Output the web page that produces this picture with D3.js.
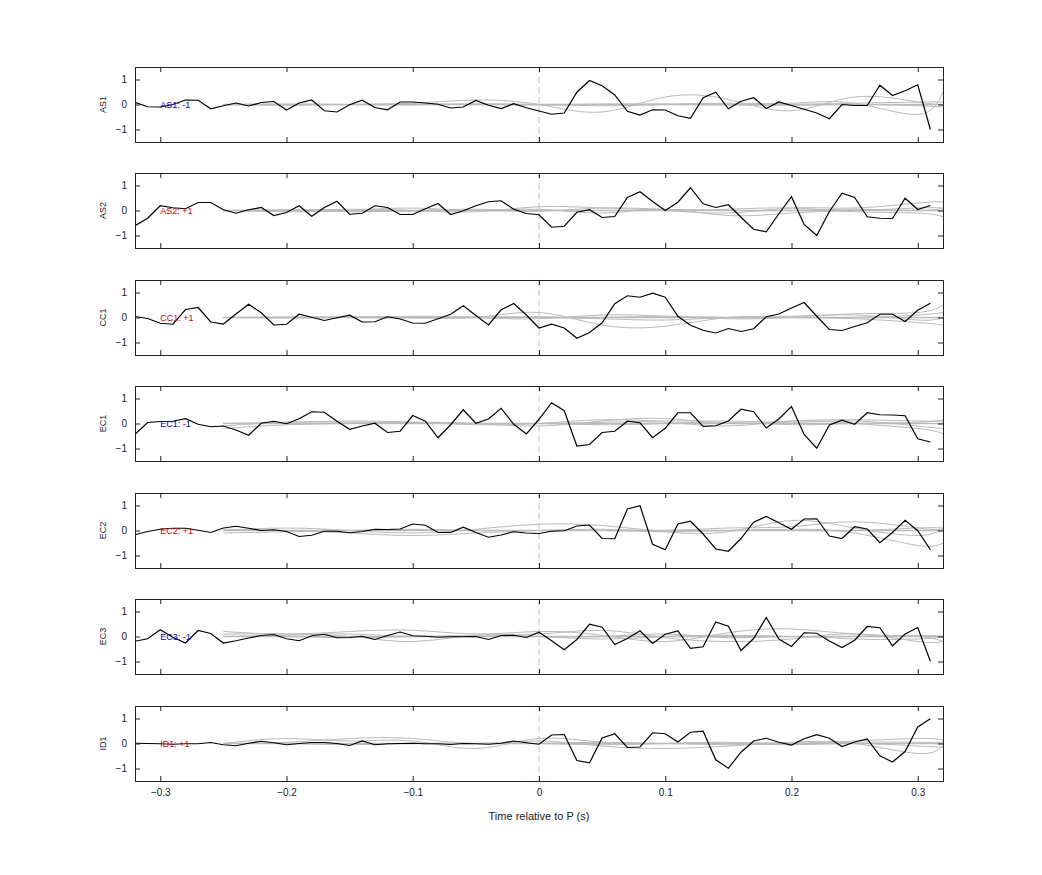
<!DOCTYPE html>
<html><head><meta charset="utf-8">
<script src="https://cdn.jsdelivr.net/npm/d3@7"></script>
<style>body{margin:0;background:#fff;font-family:"Liberation Sans",Arial,sans-serif}</style>
</head><body><svg id="c" width="1042" height="875"></svg>
<script>
const channels=["AS1","AS2","CC1","EC1","EC2","EC3","ID1"];
const signs=["-1","+1","+1","-1","+1","-1","+1"];
const xTicks=[-0.3,-0.2,-0.1,0,0.1,0.2,0.3];
const yTicks=[-1,0,1];
const times=d3.range(64).map(i=>+(-0.32+i*0.01).toFixed(2));
const AS1=[0.09,-0.09,-0.10,0,0.18,0.17,-0.17,-0.05,0.06,-0.06,0.08,0.12,-0.22,0.06,0.18,-0.25,-0.30,-0.01,0.17,-0.12,-0.21,0.10,0.10,0.06,0.01,-0.14,-0.10,0.16,-0.03,-0.16,0.03,-0.13,-0.26,-0.39,-0.34,0.49,0.96,0.75,0.38,-0.27,-0.42,-0.21,-0.22,-0.45,-0.55,0.27,0.49,-0.17,0.13,0.27,-0.16,0.10,-0.04,-0.19,-0.34,-0.57,0,-0.04,-0.04,0.77,0.36,0.55,0.79,-1.0];
const AS2=[-0.61,-0.31,0.19,0.11,0.07,0.32,0.32,0.03,-0.11,0.03,0.12,-0.2,-0.08,0.19,-0.23,0.12,0.37,-0.15,-0.11,0.19,0.12,-0.16,-0.16,0.07,0.28,-0.16,-0.01,0.19,0.35,0.39,0.05,-0.12,-0.17,-0.67,-0.63,-0.07,0.03,-0.28,-0.24,0.52,0.75,0.36,0,0.33,0.91,0.27,0.12,0.23,-0.27,-0.75,-0.85,-0.13,0.55,-0.56,-1.0,-0.04,0.69,0.52,-0.25,-0.31,-0.32,0.49,0.04,0.2];
const CC1=[0.04,-0.04,-0.23,-0.27,0.32,0.40,-0.18,-0.26,0.14,0.53,0.19,-0.30,-0.27,0.13,0.01,-0.12,-0.01,0.09,-0.18,-0.17,0.03,-0.06,-0.22,-0.23,-0.05,0.13,0.47,0.08,-0.30,0.31,0.56,0.10,-0.42,-0.27,-0.42,-0.83,-0.60,-0.21,0.55,0.87,0.81,0.97,0.81,0.05,-0.31,-0.51,-0.62,-0.44,-0.56,-0.45,0.03,0.14,0.38,0.60,0.05,-0.48,-0.52,-0.36,-0.21,0.13,0.13,-0.16,0.29,0.57];
const EC1=[-0.43,0.04,0.08,0.09,0.19,-0.03,-0.13,-0.10,-0.26,-0.47,0.01,0.09,-0.01,0.19,0.47,0.45,0.09,-0.23,-0.10,0.01,-0.36,-0.31,0.32,0.09,-0.57,-0.05,0.55,0.01,0.18,0.61,-0.03,-0.42,0.17,0.83,0.51,-0.90,-0.84,-0.36,-0.31,0.09,0.03,-0.57,-0.19,0.43,0.43,-0.12,-0.09,0.10,0.57,0.47,-0.18,0.18,0.68,-0.44,-0.99,-0.06,0.13,-0.03,0.43,0.35,0.34,0.31,-0.61,-0.74];
const EC2=[-0.17,-0.04,0.05,0.09,0.09,0.01,-0.08,0.10,0.17,0.09,0,0.03,-0.04,-0.24,-0.19,-0.03,-0.03,-0.09,-0.04,0.05,0.04,0.06,0.26,0.21,-0.08,-0.08,0.13,-0.08,-0.27,-0.18,-0.05,-0.10,-0.12,-0.03,-0.01,0.18,0.22,-0.32,-0.33,0.86,0.99,-0.55,-0.77,0.26,0.37,-0.14,-0.74,-0.83,-0.32,0.33,0.56,0.31,0.05,0.46,0.47,-0.22,-0.32,0.15,0.06,-0.49,-0.08,0.41,-0.01,-0.77];
const EC3=[-0.19,-0.09,0.27,-0.03,-0.26,0.24,0.12,-0.26,-0.17,-0.06,0.04,0.08,-0.09,-0.17,0.03,0.09,-0.05,-0.04,0.01,-0.12,0.04,0.18,0.03,0.01,-0.03,-0.01,-0.01,0,-0.12,0.04,0.05,-0.04,0.17,-0.17,-0.53,-0.12,0.49,0.37,-0.32,-0.08,0.23,-0.28,0.09,0.22,-0.47,-0.41,0.58,0.41,-0.56,-0.08,0.76,-0.10,-0.40,0.15,0.13,-0.18,-0.44,-0.15,0.40,0.35,-0.37,0.10,0.36,-0.99];
const ID1=[0.01,0,-0.01,-0.03,-0.01,-0.01,0.04,-0.05,-0.09,0.01,0.09,0.03,-0.05,0,0.04,0.04,0,-0.08,0.10,-0.05,-0.01,0,0.01,-0.01,-0.01,-0.04,0,-0.01,-0.03,0.01,0.10,0.03,-0.03,0.34,0.36,-0.68,-0.77,0.22,0.39,-0.16,-0.14,0.43,0.39,0.06,0.45,0.49,-0.65,-0.99,-0.35,0.10,0.21,0.05,-0.06,0.19,0.35,0.21,-0.12,0.06,0.18,-0.49,-0.74,-0.32,0.66,0.99];
const series=[AS1,AS2,CC1,EC1,EC2,EC3,ID1];
// grey reference curves sampled at these times
const greyTimes=[-0.25,-0.2,-0.15,-0.1,-0.05,0,0.05,0.1,0.15,0.2,0.25,0.3,0.32];
const greyAS1=[[0,0,0,0.05,0.18,0,-0.3,0.3,0.2,-0.25,0.3,0.1,0],[0,0,0,0,0,0,-0.05,0,0.05,0.05,0.05,-0.4,0.5],[0,0.02,0,-0.02,0.03,0,0.02,0,-0.02,0,0.05,0.1,0.1],[0,-0.03,0,0.02,0,-0.02,0,0.02,0,-0.03,0,-0.05,-0.1]];
const greyAS2=[[0,0,0.05,0,-0.05,0.15,0.1,0,-0.1,0.1,0.1,0.3,0.35],[0,-0.05,0,0.1,0,0.05,-0.1,0.05,-0.2,-0.1,0,0.1,0.1],[0,0,-0.05,0,0.05,0,0,0,0.05,0.1,-0.05,-0.1,-0.25],[0,0.03,0,-0.03,0,-0.03,0.1,0.05,0,0,0.05,0,0.1]];
const greyCC1=[[0,0,0.03,0,0,0.2,-0.3,-0.35,0,0.05,0.1,-0.1,0],[0,0,0,0.05,0,-0.05,0.1,0.05,-0.05,0,0.15,0.2,0.5],[0,0.02,0,-0.02,0.03,0,-0.05,-0.1,0,0,-0.05,-0.2,-0.3],[0,-0.02,0,0.02,0,0.03,0,0.05,0,0,0,0.1,0.2]];
const greyEC1=[[-0.2,-0.05,0,0.05,0,-0.1,0.1,0.2,0,0.1,0.15,0.1,0.1],[-0.1,0.05,0.05,0.05,0,0,0.05,0.05,-0.1,0.1,0,-0.2,-0.4],[0,0.05,0.1,0.05,-0.05,0,0.15,0.1,0.1,0.05,0.1,-0.1,-0.2],[0,0,0,0,0,0,-0.05,0,0.05,-0.05,0,0.05,0.15]];
const greyEC2=[[0,0.1,0,-0.1,0.05,0.25,0.2,-0.05,-0.05,0.4,0.1,-0.2,0.1],[0.05,0,-0.1,-0.2,-0.1,0,0.05,0,0.1,0.15,0.35,0.1,0.05],[-0.1,-0.05,0,0,0,0,0,-0.05,0,0.05,-0.1,-0.6,-0.5],[0,0,0,0.05,0,0,0,0,0,0,0,0.1,0.1]];
const greyEC3=[[0.2,0.1,0.2,0.25,0.1,0.2,0.05,-0.2,0.15,0.3,0.1,0,-0.2],[0.1,0.1,0,-0.2,0.05,0.1,0.25,-0.05,-0.2,-0.1,0.1,-0.2,-0.2],[0,0.05,0.1,0,0.05,0,-0.1,0,0.05,0,0,0.05,0],[0,0,-0.05,0,0,0,0,0.1,-0.05,0,-0.1,-0.1,0]];
const greyID1=[[0,0.2,0.1,0.1,-0.2,0.2,0.05,0,-0.05,0,0.1,0.2,0.15],[0,0.05,0.2,0.2,0,0.1,-0.1,-0.2,-0.1,0.05,0,-0.4,-0.1],[0,0,0,0,0,0,-0.05,0,0.05,0,0.05,0.05,0.05],[0,0,-0.05,0,0,0,0.05,0,0,-0.05,0,-0.1,-0.15]];
const greys=[greyAS1,greyAS2,greyCC1,greyEC1,greyEC2,greyEC3,greyID1];
const signColor={"-1":"#0000cc","+1":"#dd0000"};

const svg=d3.select("#c");
const L=135,R=943,H=75,tops=[67,173,280,386,493,599,706];
const x=d3.scaleLinear().domain([-0.32,0.32]).range([L,R]);
channels.forEach((ch,i)=>{
  const t=tops[i];
  const y=d3.scaleLinear().domain([-1.5,1.5]).range([t+H,t]);
  const g=svg.append("g");
  const cp=g.append("clipPath").attr("id","cp"+i).append("rect").attr("x",L).attr("y",t).attr("width",R-L).attr("height",H);
  const inner=g.append("g").attr("clip-path","url(#cp"+i+")");
  inner.append("line").attr("x1",x(0)).attr("x2",x(0)).attr("y1",t).attr("y2",t+H).attr("stroke","#d99").attr("stroke-dasharray","6,4").attr("stroke-width",0.8);
  const gl=d3.line().x((d,k)=>x(greyTimes[k])).y(d=>y(d)).curve(d3.curveNatural);
  greys[i].forEach(s=>inner.append("path").attr("d",gl(s)).attr("fill","none").attr("stroke","#bbb").attr("stroke-width",1));
  inner.append("line").attr("x1",x(-0.25)).attr("x2",R).attr("y1",y(0)).attr("y2",y(0)).attr("stroke","#bbb").attr("stroke-width",1.5);
  const bl=d3.line().x((d,k)=>x(times[k])).y(d=>y(d));
  inner.append("path").attr("d",bl(series[i])).attr("fill","none").attr("stroke","#000").attr("stroke-width",1.2);
  g.append("text").attr("x",x(-0.3)).attr("y",y(0)+3).attr("font-size",9).attr("fill",signColor[signs[i]]).text(ch+": "+signs[i]);
  // axes
  const ya=d3.axisLeft(y).tickValues(yTicks).tickSize(-5).tickPadding(8).tickFormat(d3.format("d"));
  const yr=d3.axisRight(y).tickValues(yTicks).tickSize(-5).tickFormat("");
  const xb=d3.axisBottom(x).tickValues(xTicks).tickSize(-5).tickPadding(8).tickFormat(i===6?(d=>d===0?"0":d3.format(".1f")(d)):"");
  const xt=d3.axisTop(x).tickValues(xTicks).tickSize(-5).tickFormat("");
  [[ya,`translate(${L},0)`],[yr,`translate(${R},0)`],[xb,`translate(0,${t+H})`],[xt,`translate(0,${t})`]].forEach(([a,tr])=>{
    const ag=g.append("g").attr("transform",tr).call(a);
    ag.selectAll("path,line").attr("stroke","#222");
    ag.selectAll("text").attr("font-size",10).attr("fill","#222").attr("font-family","Liberation Sans, Arial");
  });
  g.append("text").attr("transform",`translate(106,${t+H/2}) rotate(-90)`).attr("text-anchor","middle").attr("font-size",9).attr("fill","#222").text(ch);
});
svg.append("text").attr("x",x(0)).attr("y",820).attr("text-anchor","middle").attr("font-size",11).attr("fill","#222").text("Time relative to P (s)");
</script></body></html>
